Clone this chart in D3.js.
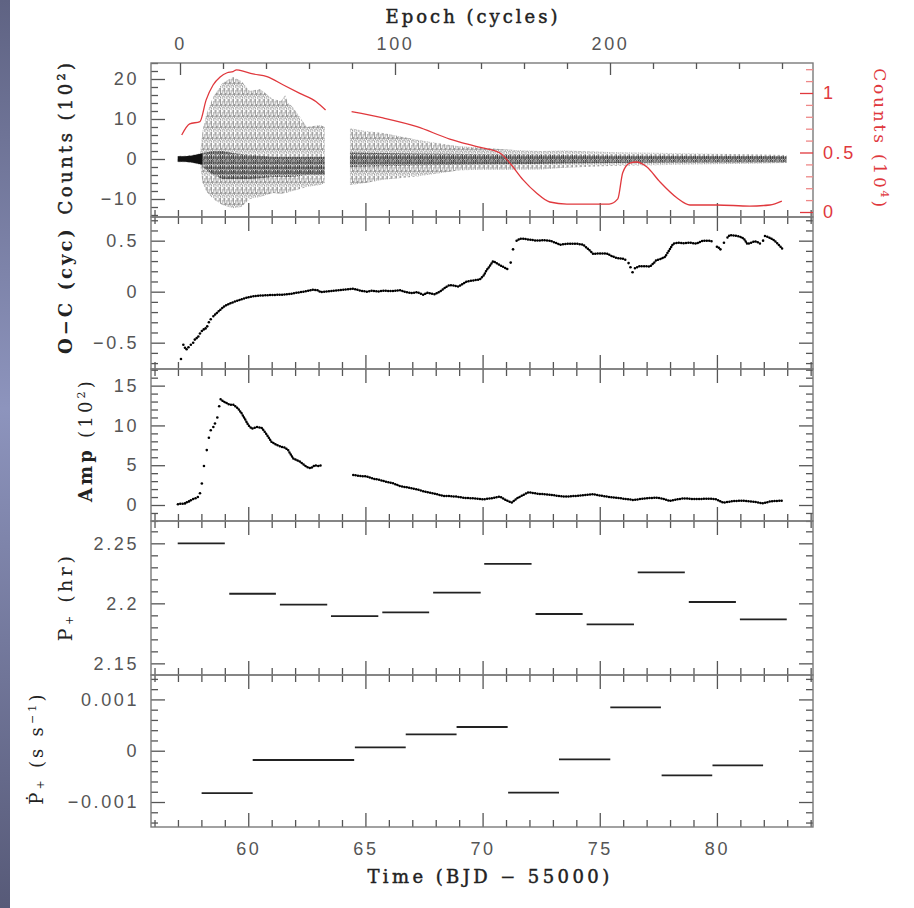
<!DOCTYPE html>
<html><head><meta charset="utf-8">
<script src="https://cdn.jsdelivr.net/npm/d3@7"></script>
<style>body{margin:0;background:#fff}svg{display:block}</style>
</head><body>
<svg id="c" width="914" height="908"></svg>
<script>
// ---------------- DATA ----------------
// Light curve envelope (counts, 10^2), two observing segments
const lc1T  = [56.99,57.3,57.6,57.95,58.05,58.2,58.5,58.9,59.35,59.7,60.07,60.5,61.05,61.4,61.57,61.7,61.9,62.5,63.06,63.27];
const lc1Up = [0.8,0.8,1.0,1.5,7,11,15.5,19,20.5,19.5,17,17.5,15,14.5,16,14,13,8,8.5,8];
const lc1Lo = [-0.8,-0.8,-1,-1.5,-6,-8,-10,-11.5,-12.3,-12,-10,-9.5,-8.5,-8.7,-8.5,-8.3,-8,-7,-6.5,-6];
const lc1CoreT  = [58.05,58.5,58.9,59.35,60.07,61.05,61.9,62.5,63.06,63.27];
const lc1CoreUp = [1.5,2,2,1.5,1,0.5,0.5,0.5,0.5,0.5];
const lc1CoreLo = [-2,-4,-5,-5,-5,-4.5,-4.5,-4,-4,-4];
const lc1FlatT  = [56.99,57.3,57.6,57.95,58.05];
const lc1FlatUp = [0.7,0.7,0.9,1.3,1.5];
const lc1FlatLo = [-0.7,-0.7,-0.9,-1.3,-1.5];
const lc2T  = [64.34,65.0,65.75,67.2,68.6,69.0,70.0,71.5,72.5,73.5,75.7,78.0,80.0,82.98];
const lc2Up = [7.7,7,6.5,4.8,3.5,3.2,2.8,2.2,2.0,2.1,1.7,1.5,1.3,1.0];
const lc2Lo = [-6.5,-6,-5.2,-4.4,-3.2,-2.8,-2.7,-2.7,-2.6,-2.2,-1.7,-1.5,-1.3,-1.0];
const lc2CoreT  = [64.34,65.75,67.2,68.6,70.0,71.5,73.5,75.7,78.0,82.98];
const lc2CoreUp = [1.6,1.5,1.4,1.3,1.2,1.1,1.0,0.9,0.8,0.7];
const lc2CoreLo = [-2.0,-1.8,-1.6,-1.5,-1.4,-1.3,-1.1,-1.0,-0.9,-0.8];

// Mean counts (10^4), red curve
const redT1 = [57.16,57.5,57.94,58.2,58.5,58.8,59.1,59.35,59.5,59.65,60.2,60.8,61.5,62.2,62.9,63.3];
const redV1 = [0.647,0.74,0.76,0.94,1.067,1.134,1.17,1.18,1.195,1.19,1.16,1.137,1.067,0.997,0.927,0.857];
const redT2 = [64.41,65.75,67.2,68.6,69.0,70.0,70.74,71.17,71.73,72.3,72.87,73.6,75.4,75.77,75.98,76.28,76.57,77.0,77.56,78.3,78.85,80.0,81.4,82.26,82.77];
const redV2 = [0.843,0.79,0.717,0.613,0.59,0.538,0.496,0.41,0.27,0.16,0.084,0.067,0.067,0.11,0.33,0.41,0.42,0.38,0.255,0.118,0.059,0.059,0.05,0.059,0.092];

// O-C (cycles)
const ocT = [58.51,58.65,58.79,59.0,59.22,59.45,59.65,59.85,60.07,60.4,60.78,61.1,61.49,61.85,62.2,62.5,62.77,62.95,63.09,
  64.48,64.7,64.9,65.05,65.3,65.55,65.76,66.1,66.47,66.75,67.0,67.2,67.47,67.65,67.8,67.97,68.2,68.47,68.6,68.75,68.96,69.1,69.32,69.6,69.88,70.05,70.17,70.3,70.45,70.6,70.74,70.95,71.14];
const ocV = [-0.24,-0.21,-0.18,-0.14,-0.115,-0.095,-0.08,-0.065,-0.05,-0.04,-0.035,-0.032,-0.03,-0.02,-0.005,0.005,0.02,0.015,-0.005,
  0.03,0.015,0.005,0.0,0.01,0.0,0.01,0.005,0.015,-0.005,-0.015,-0.005,-0.03,-0.01,-0.02,-0.025,0.005,0.05,0.065,0.06,0.05,0.07,0.1,0.11,0.12,0.16,0.21,0.25,0.30,0.28,0.26,0.235,0.21];
const ocT2 = [71.45,71.6,71.73,72.0,72.3,72.6,72.87,73.1,73.3,73.6,74.01,74.29,74.5,74.72,75.0,75.29,75.5,75.72,75.95,76.14];
const ocV2 = [0.50,0.52,0.52,0.51,0.50,0.505,0.50,0.48,0.46,0.47,0.47,0.46,0.42,0.37,0.375,0.375,0.35,0.33,0.325,0.31];
const ocT3 = [76.5,76.71,76.9,77.14,77.3,77.42,77.6,77.78,77.95,78.13,78.35,78.56,78.85,79.13,79.3,79.42,79.65,79.84];
const ocV3 = [0.23,0.25,0.25,0.245,0.28,0.31,0.32,0.34,0.40,0.47,0.48,0.475,0.48,0.47,0.49,0.50,0.50,0.49];
const ocT4 = [80.45,80.55,80.75,80.98,81.15,81.3,81.45,81.62,81.78,81.9];
const ocV4 = [0.53,0.555,0.55,0.54,0.52,0.465,0.48,0.495,0.48,0.465];
const ocT5 = [82.05,82.2,82.4,82.55,82.7,82.83];
const ocV5 = [0.545,0.535,0.51,0.48,0.445,0.41];
const ocDotT = [57.13,57.23,57.3,57.37,57.45,57.55,57.65,57.72,57.8,57.87,57.94,58.02,58.1,58.18,58.25,58.32,58.4,71.2,71.3,76.23,76.31,76.4,80.0,80.08,80.15,80.3,81.97];
const ocDotV = [-0.66,-0.52,-0.55,-0.565,-0.545,-0.52,-0.5,-0.47,-0.455,-0.44,-0.41,-0.385,-0.37,-0.36,-0.34,-0.3,-0.27,0.285,0.415,0.28,0.24,0.19,0.44,0.43,0.415,0.48,0.5];

// Pulse amplitude (10^2)
const ampT1 = [58.82,58.95,59.08,59.2,59.36,59.5,59.57,59.7,59.86,60.0,60.15,60.36,60.57,60.78,60.99,61.21,61.43,61.57,61.7,61.92,62.2,62.49,62.66,62.85,63.0,63.13];
const ampV1 = [13.3,13.0,12.8,12.6,12.6,12.3,12.1,11.6,10.8,10.05,9.6,9.8,9.7,8.9,7.95,7.55,7.3,7.2,6.9,5.85,5.45,4.8,4.6,5.0,4.9,5.0];
const ampT2 = [64.48,64.75,65.05,65.35,65.62,65.9,66.19,66.45,66.8,67.18,67.45,67.75,68.0,68.32,68.6,68.89,69.1,69.32,69.6,70.03,70.4,70.74,71.0,71.24,71.5,71.95,72.4,72.87,73.2,73.59,74.2,74.72,75.1,75.43,76.0,76.43,77.0,77.42,77.7,77.99,78.3,78.56,79.0,79.27,79.7,79.98,80.27,80.7,81.12,81.6,81.97,82.2,82.4,82.83];
const ampV2 = [3.77,3.65,3.6,3.3,3.14,2.9,2.72,2.4,2.2,1.97,1.75,1.55,1.4,1.13,1.13,1.05,0.95,0.88,0.85,0.71,0.85,1.05,0.6,0.3,0.9,1.6,1.4,1.3,1.15,1.05,1.2,1.35,1.15,1.0,0.8,0.63,0.85,0.92,0.8,0.5,0.7,0.84,0.75,0.75,0.8,0.71,0.3,0.5,0.55,0.4,0.2,0.4,0.5,0.55];
const ampDotT = [57.0,57.1,57.2,57.3,57.38,57.47,57.55,57.65,57.75,57.85,57.94,58.02,58.11,58.23,58.32,58.4,58.51,58.58,58.68,58.76];
const ampDotV = [0.1,0.15,0.15,0.2,0.35,0.45,0.6,0.75,0.85,1.0,1.47,2.7,4.9,6.9,8.45,9.4,9.8,10.25,11.0,12.4];

// P+ (hr) segments
const pStart = [56.99,59.19,61.35,63.53,65.72,67.89,70.07,72.26,74.44,76.62,78.80,80.98];
const pEnd   = [59.00,61.18,63.37,65.55,67.72,69.92,72.09,74.27,76.46,78.63,80.81,82.98];
const pVal   = [2.25,2.208,2.199,2.1894,2.1925,2.2089,2.2328,2.1911,2.1825,2.2258,2.2011,2.1867];

// Pdot segments (s/s)
const pdStart = [58.01,60.19,64.55,66.72,68.89,71.09,73.26,75.45,77.64,79.81];
const pdEnd   = [60.19,64.52,66.72,68.89,71.07,73.26,75.45,77.61,79.80,81.97];
const pdVal   = [-0.000825,-0.000181,0.0000656,0.00032,0.000462,-0.000818,-0.000168,0.000846,-0.00048,-0.000285];

// Tick values / labels
const timeTicks = [60,65,70,75,80];
const epochTicks = [0,100,200];
const cntTicks = [20,10,0,-10], cntLabels = ["20","10","0","\u221210"];
const redTicks = [0,0.5,1], redLabels = ["0","0.5","1"];
const ocTicks = [0.5,0,-0.5], ocLabels = ["0.5","0","\u22120.5"];
const ampTicks = [15,10,5,0], ampLabels = ["15","10","5","0"];
const pTicks = [2.25,2.2,2.15], pLabels = ["2.25","2.2","2.15"];
const pdTicks = [0.001,0,-0.001], pdLabels = ["0.001","0","\u22120.001"];

// ---------------- LAYOUT ----------------
const svg = d3.select("#c");
const L = 151, R = 813;
const x = d3.scaleLinear().domain([55.85, 84.1]).range([L, R]);
const ep = d3.scaleLinear().domain([(L-180)/2.15, (R-180)/2.15]).range([L, R]);
const panels = [
  {t:63,  b:217, dom:[-14.5,24]},
  {t:217, b:369, dom:[-0.758,0.732]},
  {t:369, b:521, dom:[-2.01,17.09]},
  {t:521, b:675, dom:[2.1403,2.2686]},
  {t:675, b:827, dom:[-0.001487,0.001476]}
];
panels.forEach(p => p.y = d3.scaleLinear().domain(p.dom).range([p.b, p.t]));
const yRed = d3.scaleLinear().domain([-0.042,1.252]).range([217,63]);

// background strip
const defs = svg.append("defs");
const g1 = defs.append("linearGradient").attr("id","strip").attr("x1",0).attr("x2",0).attr("y1",0).attr("y2",1);
g1.append("stop").attr("offset","0%").attr("stop-color","#5f6383");
g1.append("stop").attr("offset","45%").attr("stop-color","#8d94bd");
g1.append("stop").attr("offset","100%").attr("stop-color","#575a78");
svg.append("rect").attr("x",0).attr("y",0).attr("width",10).attr("height",908).attr("fill","url(#strip)");

// patterns for light-curve texture (thin broken vertical strokes)
const pat = defs.append("pattern").attr("id","vl").attr("patternUnits","userSpaceOnUse").attr("width",4.4).attr("height",11);
[[0,0,7],[0,8.5,2],[2.2,2,5],[2.2,8,4.5],[1.1,5,3],[3.3,0,3.5],[3.3,6,3]].forEach(([xx,yy,h]) =>
  pat.append("rect").attr("x",xx).attr("y",yy).attr("width",0.7).attr("height",h).attr("fill","#222"));
const pat2 = defs.append("pattern").attr("id","vl2").attr("patternUnits","userSpaceOnUse").attr("width",2.2).attr("height",5);
[[0,0,4],[1.1,1.5,3.5]].forEach(([xx,yy,h]) =>
  pat2.append("rect").attr("x",xx).attr("y",yy).attr("width",0.9).attr("height",h).attr("fill","#000"));

panels.forEach((p,i) => {
  defs.append("clipPath").attr("id","clip"+i).append("rect")
    .attr("x",L).attr("y",p.t).attr("width",R-L).attr("height",p.b-p.t);
});

const FONT_T = "'Liberation Sans', Arial, sans-serif";
const FONT_S = "'DejaVu Serif', 'Liberation Serif', serif";
const TICKCOL = "#555", FRAMECOL = "#7a7a7a";

function styleTicks(g, col) {
  g.select(".domain").remove();
  g.selectAll("line").attr("stroke", col || TICKCOL).attr("stroke-width",1.3);
  g.selectAll("text").attr("font-family",FONT_T).attr("font-size",18)
    .attr("fill", col || "#555").attr("letter-spacing","2.6px");
}
function rangeStep(a, b, s) { const out=[]; for (let v=a; v<=b+1e-12; v+=s) out.push(+v.toFixed(8)); return out; }

// ---------------- PANEL FRAMES & AXES ----------------
const xMinor = rangeStep(56, 84, 1).filter(v => !timeTicks.includes(v));
const yConf = [
  {maj:cntTicks, lab:cntLabels, minor:rangeStep(-14,24,2)},
  {maj:ocTicks, lab:ocLabels, minor:rangeStep(-0.7,0.7,0.1)},
  {maj:ampTicks, lab:ampLabels, minor:rangeStep(-2,17,1)},
  {maj:pTicks, lab:pLabels, minor:rangeStep(2.14,2.26,0.01)},
  {maj:pdTicks, lab:pdLabels, minor:rangeStep(-0.0014,0.0014,0.0002)}
];

panels.forEach((p,i) => {
  const g = svg.append("g");
  g.append("g").attr("transform",`translate(0,${p.b})`)
    .call(d3.axisBottom(x).tickValues(timeTicks).tickSizeInner(-14).tickSizeOuter(0).tickPadding(15)
      .tickFormat(i===4 ? d3.format("d") : ""))
    .call(s => styleTicks(s));
  g.append("g").attr("transform",`translate(0,${p.b})`)
    .call(d3.axisBottom(x).tickValues(xMinor).tickSizeInner(-7).tickSizeOuter(0).tickFormat(""))
    .call(s => styleTicks(s));
  if (i>0) {
    g.append("g").attr("transform",`translate(0,${p.t})`)
      .call(d3.axisTop(x).tickValues(timeTicks).tickSizeInner(-14).tickSizeOuter(0).tickFormat(""))
      .call(s => styleTicks(s));
    g.append("g").attr("transform",`translate(0,${p.t})`)
      .call(d3.axisTop(x).tickValues(xMinor).tickSizeInner(-7).tickSizeOuter(0).tickFormat(""))
      .call(s => styleTicks(s));
  }
  const c = yConf[i];
  const minorVals = c.minor.filter(v => !c.maj.some(m => Math.abs(m-v)<1e-9) && v>=p.dom[0] && v<=p.dom[1]);
  g.append("g").attr("transform",`translate(${L},0)`)
    .call(d3.axisLeft(p.y).tickValues(c.maj).tickSizeInner(-14).tickSizeOuter(0).tickPadding(12)
      .tickFormat((d,k) => c.lab[k]))
    .call(s => styleTicks(s));
  g.append("g").attr("transform",`translate(${L},0)`)
    .call(d3.axisLeft(p.y).tickValues(minorVals).tickSizeInner(-7).tickSizeOuter(0).tickFormat(""))
    .call(s => styleTicks(s));
  if (i>0) {
    g.append("g").attr("transform",`translate(${R},0)`)
      .call(d3.axisRight(p.y).tickValues(c.maj).tickSizeInner(-14).tickSizeOuter(0).tickFormat(""))
      .call(s => styleTicks(s));
    g.append("g").attr("transform",`translate(${R},0)`)
      .call(d3.axisRight(p.y).tickValues(minorVals).tickSizeInner(-7).tickSizeOuter(0).tickFormat(""))
      .call(s => styleTicks(s));
  }
  g.append("rect").attr("x",L).attr("y",p.t).attr("width",R-L).attr("height",p.b-p.t)
    .attr("fill","none").attr("stroke",FRAMECOL).attr("stroke-width",1.4);
});

// top epoch axis
svg.append("g").attr("transform",`translate(0,63)`)
  .call(d3.axisTop(ep).tickValues(epochTicks).tickSizeInner(-12).tickSizeOuter(0).tickPadding(13).tickFormat(d3.format("d")))
  .call(s => styleTicks(s));
svg.append("g").attr("transform",`translate(0,63)`)
  .call(d3.axisTop(ep).tickValues(rangeStep(20,280,20).filter(v=>!epochTicks.includes(v))).tickSizeInner(-6).tickSizeOuter(0).tickFormat(""))
  .call(s => styleTicks(s));

// red right axis
const RED = "#e0383d";
svg.append("g").attr("transform",`translate(${R},0)`)
  .call(d3.axisRight(yRed).tickValues(redTicks).tickSizeInner(-13).tickSizeOuter(0).tickPadding(10).tickFormat((d,k)=>redLabels[k]))
  .call(s => styleTicks(s, RED));
svg.append("g").attr("transform",`translate(${R},0)`)
  .call(d3.axisRight(yRed).tickValues(rangeStep(0.1,1.2,0.1).filter(v=>!redTicks.includes(v))).tickSizeInner(-7).tickSizeOuter(0).tickFormat(""))
  .call(s => styleTicks(s, "#e88"));

// ---------------- DATA MARKS ----------------
const p0 = panels[0];
const zip = (t,a,b) => t.map((d,k)=>({t:d,a:a[k],b:b?b[k]:null}));
const areaLC = d3.area().x(d=>x(d.t)).y0(d=>p0.y(d.b)).y1(d=>p0.y(d.a));
const gLC = svg.append("g").attr("clip-path","url(#clip0)");
[[lc1T,lc1Up,lc1Lo],[lc2T,lc2Up,lc2Lo]].forEach(([t,u,l]) => {
  gLC.append("path").datum(zip(t,u,l)).attr("d",areaLC).attr("fill","url(#vl)").attr("opacity",0.6);
});
[[lc1CoreT,lc1CoreUp,lc1CoreLo],[lc2CoreT,lc2CoreUp,lc2CoreLo]].forEach(([t,u,l]) => {
  gLC.append("path").datum(zip(t,u,l)).attr("d",areaLC).attr("fill","url(#vl2)").attr("opacity",0.65);
});
gLC.append("path").datum(zip(lc1FlatT,lc1FlatUp,lc1FlatLo)).attr("d",areaLC).attr("fill","#111");
const lineRed = d3.line().x(d=>x(d.t)).y(d=>yRed(d.a)).curve(d3.curveMonotoneX);
[[redT1,redV1],[redT2,redV2]].forEach(([t,v]) => {
  gLC.append("path").datum(zip(t,v)).attr("d",lineRed).attr("fill","none").attr("stroke",RED).attr("stroke-width",1.3);
});

function dotted(pi, t, v) {
  const p = panels[pi];
  svg.append("path").datum(zip(t,v))
    .attr("d", d3.line().x(d=>x(d.t)).y(d=>p.y(d.a)))
    .attr("fill","none").attr("stroke","#000").attr("stroke-width",2.5)
    .attr("stroke-linecap","round").attr("stroke-dasharray","0 2.4");
}
function dots(pi, t, v) {
  const p = panels[pi];
  svg.append("g").selectAll("circle").data(zip(t,v)).join("circle")
    .attr("cx",d=>x(d.t)).attr("cy",d=>p.y(d.a)).attr("r",1.3).attr("fill","#000");
}
dotted(1, ocT, ocV); dotted(1, ocT2, ocV2); dotted(1, ocT3, ocV3); dotted(1, ocT4, ocV4); dotted(1, ocT5, ocV5);
dots(1, ocDotT, ocDotV);
dotted(2, ampT1, ampV1); dotted(2, ampT2, ampV2);
dots(2, ampDotT, ampDotV);

svg.append("g").selectAll("line").data(pVal).join("line")
  .attr("x1",(d,k)=>x(pStart[k])).attr("x2",(d,k)=>x(pEnd[k]))
  .attr("y1",d=>panels[3].y(d)).attr("y2",d=>panels[3].y(d))
  .attr("stroke","#222").attr("stroke-width",1.8);
svg.append("g").selectAll("line").data(pdVal).join("line")
  .attr("x1",(d,k)=>x(pdStart[k])).attr("x2",(d,k)=>x(pdEnd[k]))
  .attr("y1",d=>panels[4].y(d)).attr("y2",d=>panels[4].y(d))
  .attr("stroke","#222").attr("stroke-width",1.8);

// ---------------- TITLES ----------------
function title(xp, yp, rot, parts, opts={}) {
  const t = svg.append("text").attr("transform",`translate(${xp},${yp}) rotate(${rot})`)
    .attr("text-anchor","middle").attr("font-family",FONT_S).attr("font-size",opts.size||18)
    .attr("letter-spacing",(opts.ls||3)+"px").attr("fill",opts.fill||"#222")
    .attr("font-weight",opts.weight||"normal").attr("dominant-baseline","middle");
  if (opts.semi) t.attr("stroke",opts.fill||"#222").attr("stroke-width",0.45);
  parts.forEach(pt => {
    const s = t.append("tspan").text(pt.s);
    if (pt.sub) s.attr("font-size",11).attr("baseline-shift","-25%");
    if (pt.sup) s.attr("font-size",11).attr("baseline-shift","45%");
    if (pt.w) s.attr("font-weight",pt.w);
  });
  return t;
}
title(473, 18, 0, [{s:"Epoch (cycles)"}], {semi:true, ls:3});
title(490, 878, 0, [{s:"Time (BJD \u2212 55000)"}], {semi:true, ls:3.4});
title(67, 137, -90, [{s:"Counts ("},{s:"10"},{s:"2",sup:true},{s:")"}], {semi:true, ls:3.4});
title(879, 139, 90, [{s:"Counts ("},{s:"10"},{s:"4",sup:true},{s:")"}], {fill:RED, ls:2.8, size:17});
title(67, 290, -90, [{s:"O\u2212C (cyc)"}], {weight:"bold", ls:3});
title(87, 440, -90, [{s:"Amp",w:"bold"},{s:" (10"},{s:"2",sup:true},{s:")"}], {ls:3.2});
title(67, 597, -90, [{s:"P"},{s:"+",sub:true},{s:" (hr)"}], {ls:3.5, size:19});
title(38, 748, -90, [{s:"\u1E56"},{s:"+",sub:true},{s:" (s s"},{s:"\u22121",sup:true},{s:")"}], {ls:3.2});
</script>
</body></html>
